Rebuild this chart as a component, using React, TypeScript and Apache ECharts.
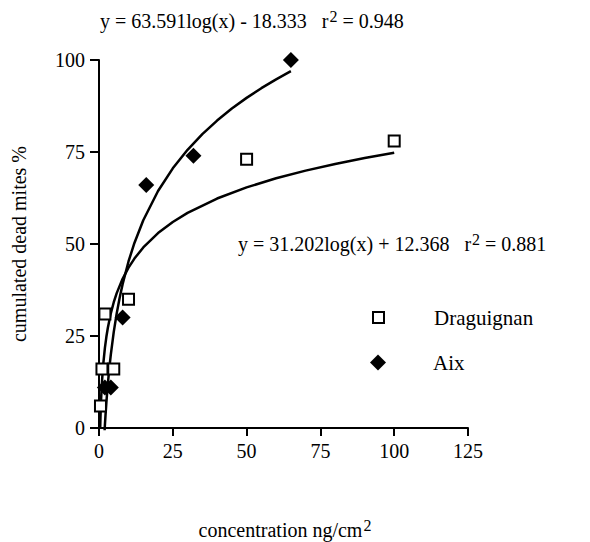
import React, { useEffect, useRef } from 'react';
import * as echarts from 'echarts';

// Observed data points
const dragX = [0.5, 1, 2, 5, 10, 50, 100];
const dragY = [6, 16, 31, 16, 35, 73, 78];
const aixX = [2, 4, 8, 16, 32, 65];
const aixY = [11, 11, 30, 66, 74, 100];

// Fitted log curves as printed on the chart: y = a*log10(x) + b
const dragFit = [31.202, 12.368];
const aixFit = [63.591, -18.333];
const dragCurveX = [0.4, 0.5, 0.6, 0.7, 0.8, 1, 1.2, 1.5, 2, 2.5, 3, 4, 5, 6, 8, 10, 12, 15, 20, 25, 30, 40, 50, 60, 70, 80, 90, 100];
const aixCurveX = [1.9, 2, 2.2, 2.5, 3, 3.5, 4, 5, 6, 7, 8, 10, 12, 15, 20, 25, 30, 35, 40, 45, 50, 55, 60, 65];

const xTicks = { min: 0, max: 125, interval: 25 };
const yTicks = { min: 0, max: 100, interval: 25 };

const FONT = "'Liberation Serif', 'Times New Roman', serif";

export default function App() {
  const ref = useRef<HTMLDivElement>(null);
  useEffect(() => {
    const chart = echarts.init(ref.current!, null, { renderer: 'svg' });
    const fit = (xs: number[], c: number[]) => xs.map((x) => [x, c[0] * Math.log10(x) + c[1]]);
    const sup = {
      fontSize: 16,
      fontFamily: FONT,
      color: '#000',
      padding: [0, 0, 9, 1],
    };
    const base = { fontSize: 20, fontFamily: FONT, color: '#000', lineHeight: 20 };
    const legendText = { fontSize: 21, fontFamily: FONT, color: '#000' };
    const option: any = {
      animation: false,
      backgroundColor: '#fff',
      textStyle: { fontFamily: FONT, color: '#000' },
      grid: { left: 99, right: 122, top: 60, bottom: 114 },
      xAxis: {
        type: 'value',
        ...xTicks,
        axisLine: { show: true, lineStyle: { color: '#000', width: 2 } },
        axisTick: { show: true, length: 8, lineStyle: { color: '#000', width: 2 } },
        axisLabel: { fontSize: 20, fontFamily: FONT, color: '#000', margin: 13 },
        splitLine: { show: false },
      },
      yAxis: {
        type: 'value',
        ...yTicks,
        axisLine: { show: true, lineStyle: { color: '#000', width: 2 } },
        axisTick: { show: true, length: 9, lineStyle: { color: '#000', width: 2 } },
        axisLabel: { fontSize: 20, fontFamily: FONT, color: '#000', margin: 14 },
        splitLine: { show: false },
      },
      legend: [
        {
          data: ['Draguignan'],
          orient: 'vertical',
          left: 367,
          top: 302,
          itemWidth: 11,
          itemHeight: 11,
          textStyle: { ...legendText, padding: [0, 0, 0, 45] },
        },
        {
          data: ['Aix'],
          orient: 'vertical',
          left: 365,
          top: 347,
          itemWidth: 16,
          itemHeight: 16,
          textStyle: { ...legendText, padding: [0, 0, 0, 42] },
        },
      ],
      series: [
        {
          name: 'fitDrag',
          type: 'line',
          data: fit(dragCurveX, dragFit),
          showSymbol: false,
          symbol: 'none',
          smooth: false,
          clip: false,
          lineStyle: { color: '#000', width: 2.5 },
          z: 2,
        },
        {
          name: 'fitAix',
          type: 'line',
          data: fit(aixCurveX, aixFit),
          showSymbol: false,
          symbol: 'none',
          smooth: false,
          clip: false,
          lineStyle: { color: '#000', width: 2.5 },
          z: 2,
        },
        {
          name: 'Draguignan',
          type: 'scatter',
          symbol: 'rect',
          symbolSize: 11,
          clip: false,
          data: dragX.map((x, i) => [x, dragY[i]]),
          itemStyle: { color: '#fff', borderColor: '#000', borderWidth: 2, opacity: 1 },
          z: 3,
        },
        {
          name: 'Aix',
          type: 'scatter',
          symbol: 'diamond',
          symbolSize: 16,
          clip: false,
          data: aixX.map((x, i) => [x, aixY[i]]),
          itemStyle: { color: '#000', opacity: 1 },
          z: 4,
        },
      ],
      graphic: [
        {
          type: 'text',
          left: 100,
          top: 8,
          style: {
            text: 'y = 63.591log(x) - 18.333   r{s|2} = 0.948',
            ...base,
            rich: { s: sup },
          },
        },
        {
          type: 'text',
          left: 238,
          top: 231,
          style: {
            text: 'y = 31.202log(x) + 12.368   r{s|2} = 0.881',
            ...base,
            rich: { s: sup },
          },
        },
        {
          type: 'text',
          x: 285,
          y: 530,
          style: {
            text: 'concentration ng/cm{s|2}',
            ...base,
            rich: { s: sup },
            align: 'center',
            verticalAlign: 'middle',
          },
        },
        {
          type: 'text',
          x: 19,
          y: 244,
          rotation: Math.PI / 2,
          style: {
            text: 'cumulated dead mites %',
            ...base,
            align: 'center',
            verticalAlign: 'middle',
          },
        },
      ],
    };
    chart.setOption(option);
    return () => chart.dispose();
  }, []);
  return (
    <div
      ref={ref}
      style={{ position: 'fixed', left: 0, top: 0, width: 590, height: 542, background: '#fff' }}
    />
  );
}
